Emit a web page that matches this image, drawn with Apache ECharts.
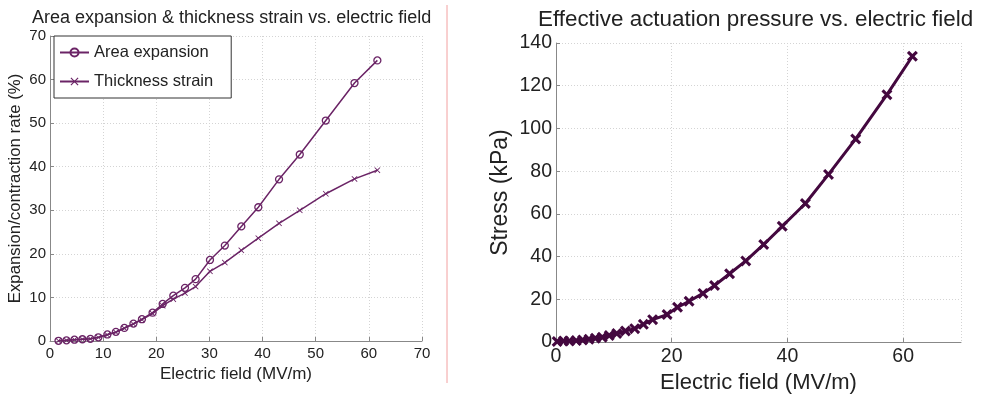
<!DOCTYPE html>
<html><head><meta charset="utf-8">
<script src="https://cdn.jsdelivr.net/npm/echarts@6/dist/echarts.min.js"></script>
<style>html,body{margin:0;padding:0;background:#fff}#c{width:986px;height:399px}</style>
</head><body><div id="c"></div>
<script>
// Left chart data
const fieldA = [1.6, 3.1, 4.6, 6.1, 7.6, 9.1, 10.8, 12.4, 14.0, 15.7, 17.3, 19.3, 21.2, 23.2, 25.4, 27.4, 30.1, 32.9, 36.0, 39.2, 43.1, 47.0, 51.9, 57.3, 61.6];
const areaExpansion = [0.05, 0.15, 0.3, 0.4, 0.5, 0.85, 1.5, 2.1, 3.0, 4.0, 5.0, 6.5, 8.5, 10.4, 12.2, 14.2, 18.6, 21.9, 26.3, 30.7, 37.1, 42.8, 50.6, 59.2, 64.4];
const thicknessStrain = [0.05, 0.15, 0.3, 0.4, 0.5, 0.8, 1.4, 2.0, 2.9, 3.9, 4.9, 6.3, 8.1, 9.6, 11.0, 12.5, 16.0, 18.0, 20.8, 23.6, 27.0, 30.0, 33.8, 37.2, 39.2];
// Right chart data
const fieldS = [0.2, 1.3, 2.3, 3.5, 4.6, 5.7, 6.8, 8.0, 9.2, 10.5, 12.0, 13.6, 15.1, 16.7, 19.2, 21.0, 23.0, 25.4, 27.4, 30.0, 32.8, 35.9, 39.1, 43.1, 47.1, 51.8, 57.2, 61.6];
const stress = [0.3, 0.5, 0.5, 0.7, 1.0, 1.3, 1.8, 2.3, 3.1, 4.0, 5.2, 6.3, 8.3, 10.5, 12.9, 16.3, 19.1, 22.8, 26.5, 32.0, 38.0, 45.7, 54.2, 64.9, 78.5, 95.1, 115.8, 133.8];

const FONT = 'Liberation Sans, Arial, sans-serif';
const TXT = '#222';
const pair = (xs, ys) => xs.map((x, i) => [x, ys[i]]);
const xThin = 'path://M1,0L5,4L9,0L10,1L6,5L10,9L9,10L5,6L1,10L0,9L4,5L0,1Z';
const xBold = 'path://M2,0L5,3L8,0L10,2L7,5L10,8L8,10L5,7L2,10L0,8L3,5L0,2Z';

function axisCommon(extra) {
  return Object.assign({
    axisLine: {show: true, onZero: false, lineStyle: {color: '#888', width: 1}},
    axisTick: {show: true, inside: true, length: 4, lineStyle: {color: '#888'}},
    splitLine: {show: true, lineStyle: {color: '#d4d4d4', type: [1, 2], width: 1}},
    nameLocation: 'middle',
    nameTextStyle: {color: TXT, fontFamily: FONT}
  }, extra);
}

const chart = echarts.init(document.getElementById('c'), null, {renderer: 'canvas'});
chart.setOption({
  backgroundColor: '#fff',
  animation: false,
  title: [
    {text: 'Area expansion & thickness strain vs. electric field', left: 27, top: 4,
     textStyle: {fontFamily: FONT, fontSize: 18, fontWeight: 'normal', color: TXT}},
    {text: 'Effective actuation pressure vs. electric field', left: 533, top: 4,
     textStyle: {fontFamily: FONT, fontSize: 22.4, fontWeight: 'normal', color: TXT}}
  ],
  legend: {
    left: 54, top: 36, orient: 'vertical',
    backgroundColor: '#fff', borderColor: '#333', borderWidth: 1,
    padding: [8, 18, 8, 5], itemGap: 12, itemWidth: 29, itemHeight: 10,
    textStyle: {fontFamily: FONT, fontSize: 16.5, color: TXT},
    data: ['Area expansion', 'Thickness strain']
  },
  grid: [
    {left: 50, top: 36, width: 372, height: 305, containLabel: false},
    {left: 556, top: 43, width: 405, height: 304, containLabel: false}
  ],
  xAxis: [
    axisCommon({type: 'value', gridIndex: 0, min: 0, max: 70, interval: 10,
      name: 'Electric field (MV/m)', nameGap: 22, nameTextStyle: {color: TXT, fontFamily: FONT, fontSize: 17},
      axisLabel: {color: TXT, fontFamily: FONT, fontSize: 15, margin: 5}}),
    axisCommon({type: 'value', gridIndex: 1, min: 0, max: 70, interval: 20,
      name: 'Electric field (MV/m)', nameGap: 26, nameTextStyle: {color: TXT, fontFamily: FONT, fontSize: 22},
      axisLabel: {color: TXT, fontFamily: FONT, fontSize: 19.5, margin: 5, showMaxLabel: false}})
  ],
  yAxis: [
    axisCommon({type: 'value', gridIndex: 0, min: 0, max: 70, interval: 10,
      name: 'Expansion/contraction rate (%)', nameGap: 26, nameTextStyle: {color: TXT, fontFamily: FONT, fontSize: 16.8},
      axisLabel: {color: TXT, fontFamily: FONT, fontSize: 15, margin: 4}}),
    axisCommon({type: 'value', gridIndex: 1, min: 0, max: 140, interval: 20,
      name: 'Stress (kPa)', nameGap: 44, nameTextStyle: {color: TXT, fontFamily: FONT, fontSize: 23},
      axisLabel: {color: TXT, fontFamily: FONT, fontSize: 19.5, margin: 4}})
  ],
  series: [
    {name: 'Area expansion', type: 'line', xAxisIndex: 0, yAxisIndex: 0,
     data: pair(fieldA, areaExpansion), symbol: 'circle', symbolSize: 7,
     lineStyle: {color: '#6b2466', width: 1.5},
     itemStyle: {color: 'rgba(255,255,255,0)', borderColor: '#6b2466', borderWidth: 1.3}},
    {name: 'Thickness strain', type: 'line', xAxisIndex: 0, yAxisIndex: 0,
     data: pair(fieldA, thicknessStrain), symbol: xThin, symbolSize: 6,
     lineStyle: {color: '#6b2466', width: 1.5},
     itemStyle: {color: '#6b2466'}},
    {name: 'Stress', type: 'line', xAxisIndex: 1, yAxisIndex: 1,
     data: pair(fieldS, stress), symbol: xBold, symbolSize: 11,
     lineStyle: {color: '#44083f', width: 3},
     itemStyle: {color: '#44083f'}}
  ],
  graphic: [
    {type: 'line', shape: {x1: 447, y1: 5, x2: 447, y2: 383}, style: {stroke: '#f2a0a0', lineWidth: 1}}
  ]
});
</script></body></html>
